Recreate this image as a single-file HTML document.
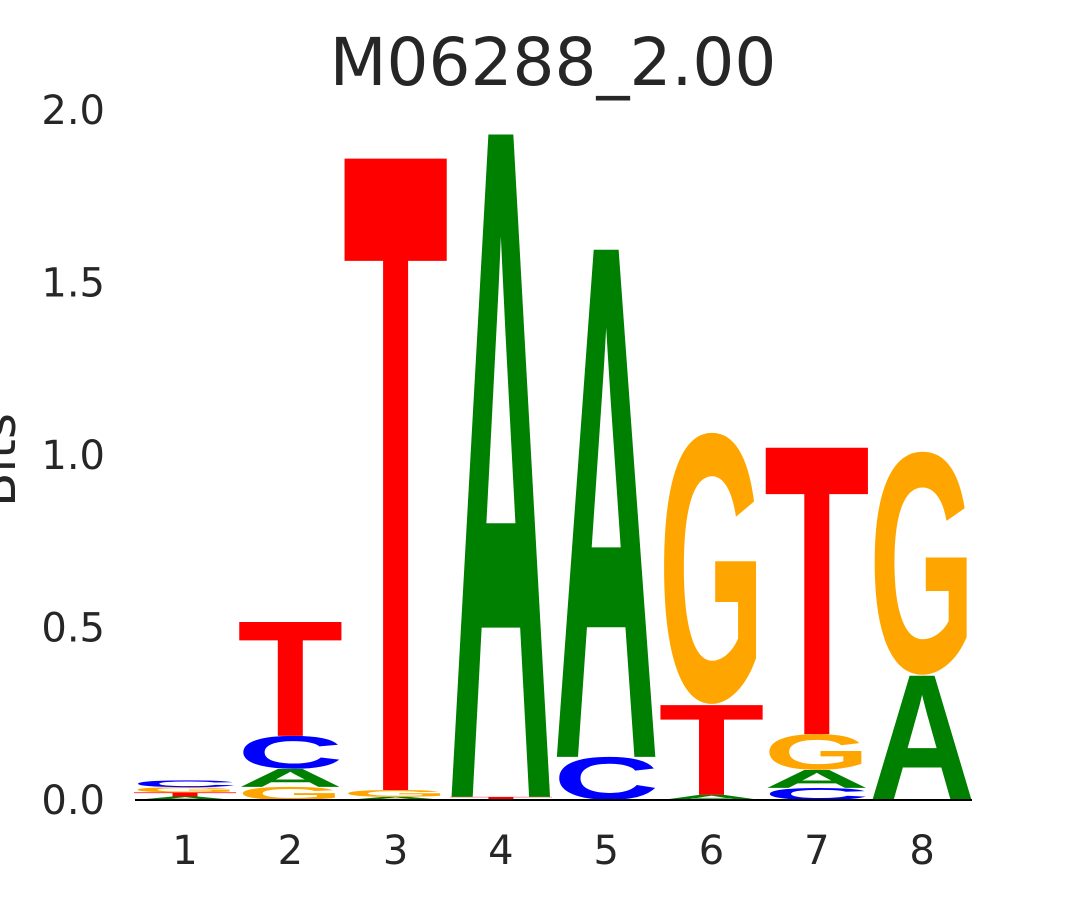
<!DOCTYPE html>
<html><head><meta charset="utf-8"><style>
html,body{margin:0;padding:0;background:#fff;width:1080px;height:900px;overflow:hidden;}
svg{display:block;}
text{font-family:"DejaVu Sans","Liberation Sans",sans-serif;fill:#262626;}
.lt{font-family:"Liberation Sans",sans-serif;font-weight:bold;}
</style></head><body>
<svg id="chart" width="1080" height="900">
<text x="553" y="85" font-size="66" text-anchor="middle">M06288_2.00</text>
<text transform="translate(15,460) rotate(-90)" font-size="50" text-anchor="middle">Bits</text>
<g id="yticks"></g><g id="xticks"></g><g id="letters"></g>
<line x1="135" y1="800" x2="972" y2="800" stroke="#000" stroke-width="2"/>
</svg>
<script>
const positions = [1,2,3,4,5,6,7,8];
// stacks bottom-to-top: [letter, bits]
const stack1 = [["A",0.01],["T",0.012],["G",0.015],["C",0.02]];
const stack2 = [["G",0.038],["A",0.052],["C",0.096],["T",0.33]];
const stack3 = [["A",0.009],["G",0.02],["T",1.83]];
const stack4 = [["C",0.003],["T",0.006],["A",1.92]];
const stack5 = [["C",0.125],["A",1.47]];
const stack6 = [["A",0.015],["T",0.26],["G",0.79]];
const stack7 = [["C",0.035],["A",0.052],["G",0.104],["T",0.83]];
const stack8 = [["C",0.003],["A",0.357],["G",0.65]];
const stacks = [stack1,stack2,stack3,stack4,stack5,stack6,stack7,stack8];
const yTicks = [0,0.5,1,1.5,2];
const yTickLabels = ["0.0","0.5","1.0","1.5","2.0"];

const colors = {A:"#008000",C:"#0000ff",G:"#ffa500",T:"#ff0000"};
const NS="http://www.w3.org/2000/svg";
const y = v => 800 - v*345;
const x = p => 185 + (p-1)*105.3;
const W = 100;

const yt = document.getElementById('yticks');
yTicks.forEach((t,i)=>{
  const el=document.createElementNS(NS,'text');
  el.setAttribute('x',105);el.setAttribute('y',y(t)+14);
  el.setAttribute('font-size',40);el.setAttribute('text-anchor','end');
  el.textContent=yTickLabels[i];
  
  
  yt.appendChild(el);
});
const xt = document.getElementById('xticks');
positions.forEach(p=>{
  const el=document.createElementNS(NS,'text');
  el.setAttribute('x',x(p));el.setAttribute('y',864);
  el.setAttribute('font-size',40);el.setAttribute('text-anchor','middle');
  el.textContent=String(p);
  
  
  xt.appendChild(el);
});
const lg = document.getElementById('letters');
stacks.forEach((st,i)=>{
  let cum=0;
  const cx=x(positions[i]);
  st.forEach(([L,v])=>{
    const yb=y(cum), yt2=y(cum+v); cum+=v;
    const h=yb-yt2; if(h<=0) return;
    const round = (L==="C"||L==="G");
    const capH = round ? 71.2 : 68.8;
    const off = round ? 1.3 : 0;
    const g=document.createElementNS(NS,'g');
    g.setAttribute('transform',`translate(${cx-W/2-3},${yb}) scale(1,${h/capH})`);
    const t=document.createElementNS(NS,'text');
    t.setAttribute('class','lt');
    t.setAttribute('x',0);t.setAttribute('y',-off);
    t.setAttribute('font-size',100);
    t.setAttribute('textLength',W+6);
    t.setAttribute('lengthAdjust','spacingAndGlyphs');
    t.setAttribute('style','fill:'+colors[L]);
    t.textContent=L;
    
    
    g.appendChild(t);
    lg.appendChild(g);
  });
});
</script>
</body></html>
